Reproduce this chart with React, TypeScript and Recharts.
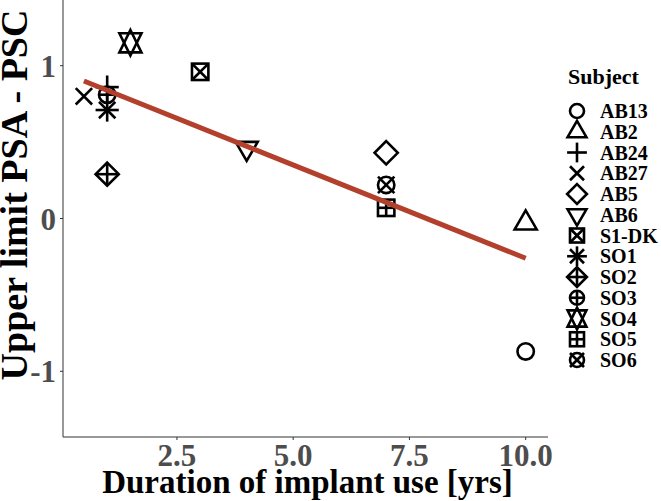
import React from "react";
import { ScatterChart, Scatter, XAxis, YAxis } from "recharts";

// one point per subject
const subjects = ["AB13", "AB2", "AB24", "AB27", "AB5", "AB6", "S1-DK", "SO1", "SO2", "SO3", "SO4", "SO5", "SO6"];
const years = [10, 10, 1, 0.5, 7, 4, 3, 1, 1, 1, 1.5, 7, 7];
const diffs = [-0.87, -0.03, 0.86, 0.8, 0.43, 0.46, 0.96, 0.71, 0.29, 0.81, 1.15, 0.07, 0.22];
// R-style point shapes (pch 1..13)
const pchCodes = [1, 2, 3, 4, 5, 6, 7, 8, 9, 10, 11, 12, 13];

// linear fit ends
const fitYears = [0.5, 10];
const fitValues = [0.9, -0.26];

const xTicks = [2.5, 5, 7.5, 10];
const yTicks = [-1, 0, 1];

const FONT = "'Liberation Serif', 'DejaVu Serif', serif";
const FIT_COLOR = "#b3402c";

type PchProps = { cx: number; cy: number; pch: number; R?: number };

const Pch = ({ cx, cy, pch, R = 8.2 }: PchProps) => {
  const st = { stroke: "#000", strokeWidth: 2.6, fill: "none" };
  const s2 = Math.SQRT2 * R;
  const upTri = (xc: number, r: number, yc: number) =>
    `${cx},${cy - r} ${cx + xc},${cy + yc} ${cx - xc},${cy + yc}`;
  const downTri = (xc: number, r: number, yc: number) =>
    `${cx},${cy + r} ${cx + xc},${cy - yc} ${cx - xc},${cy - yc}`;
  const plus = (h: number) => (
    <>
      <line x1={cx - h} y1={cy} x2={cx + h} y2={cy} {...st} />
      <line x1={cx} y1={cy - h} x2={cx} y2={cy + h} {...st} />
    </>
  );
  const times = (h: number) => (
    <>
      <line x1={cx - h} y1={cy - h} x2={cx + h} y2={cy + h} {...st} />
      <line x1={cx - h} y1={cy + h} x2={cx + h} y2={cy - h} {...st} />
    </>
  );
  const diamond = `${cx},${cy - s2} ${cx + s2},${cy} ${cx},${cy + s2} ${cx - s2},${cy}`;
  switch (pch) {
    case 1:
      return <circle cx={cx} cy={cy} r={R} {...st} />;
    case 2:
      return <polygon points={upTri(1.3468 * R, 1.555 * R, 0.7776 * R)} {...st} />;
    case 3:
      return <g>{plus(s2)}</g>;
    case 4:
      return <g>{times(R)}</g>;
    case 5:
      return <polygon points={diamond} {...st} />;
    case 6:
      return <polygon points={downTri(1.3468 * R, 1.555 * R, 0.7776 * R)} {...st} />;
    case 7:
      return (
        <g>
          <rect x={cx - R} y={cy - R} width={2 * R} height={2 * R} {...st} />
          {times(R)}
        </g>
      );
    case 8:
      return (
        <g>
          {times(R)}
          {plus(s2)}
        </g>
      );
    case 9:
      return (
        <g>
          <polygon points={diamond} {...st} />
          {plus(s2)}
        </g>
      );
    case 10:
      return (
        <g>
          <circle cx={cx} cy={cy} r={R} {...st} />
          {plus(R)}
        </g>
      );
    case 11: {
      const r = 1.555 * R;
      const yc = 0.5 * (0.7776 * R + r);
      const xc = 1.3468 * R;
      return (
        <g>
          <polygon points={upTri(xc, r, yc)} {...st} />
          <polygon points={downTri(xc, r, yc)} {...st} />
        </g>
      );
    }
    case 12:
      return (
        <g>
          <rect x={cx - R} y={cy - R} width={2 * R} height={2 * R} {...st} />
          {plus(R)}
        </g>
      );
    default:
      return (
        <g>
          <circle cx={cx} cy={cy} r={R} {...st} />
          {times(R)}
        </g>
      );
  }
};

const fitData = fitYears.map((x, i) => ({ x, y: fitValues[i] }));

const tickStyle = { fill: "#4d4d4d", fontSize: 31, fontWeight: "bold", fontFamily: FONT };

const XTitle = (props: any) => {
  const vb = props.viewBox || {};
  return (
    <text
      x={vb.x + vb.width / 2 + 2}
      y={493}
      textAnchor="middle"
      style={{ fill: "#000", fontSize: 33, fontWeight: "bold", fontFamily: FONT }}
    >
      Duration of implant use [yrs]
    </text>
  );
};

const YTitle = () => (
  <text
    x={27}
    y={195}
    transform="rotate(-90 27 195)"
    textAnchor="middle"
    style={{ fill: "#000", fontSize: 38, fontWeight: "bold", fontFamily: FONT }}
  >
    Upper limit PSA - PSC
  </text>
);

const LegendBox = () => (
  <svg width={661} height={501} style={{ position: "absolute", left: 0, top: 0, pointerEvents: "none" }}>
    <text x={568} y={84} style={{ fontSize: 22, fontWeight: "bold", fontFamily: FONT }}>
      Subject
    </text>
    {subjects.map((s, i) => {
      const cy = 111 + i * 20.75;
      return (
        <g key={s}>
          <Pch cx={577} cy={cy} pch={pchCodes[i]} R={7} />
          <text x={600} y={cy + 7} style={{ fontSize: 20, fontWeight: "bold", fontFamily: FONT }}>
            {s}
          </text>
        </g>
      );
    })}
  </svg>
);

export default function App() {
  return (
    <div style={{ position: "absolute", left: 0, top: 0, width: 661, height: 501, background: "#fff" }}>
      <ScatterChart width={661} height={501} margin={{ top: 0, right: 113, bottom: 0, left: 0 }}>
        <XAxis
          type="number"
          dataKey="x"
          domain={[0.05, 10.48]}
          ticks={xTicks}
          tickFormatter={(v: number) => v.toFixed(1)}
          allowDataOverflow
          height={64}
          stroke="#333"
          tickSize={3}
          tickMargin={4}
          tick={tickStyle}
          label={<XTitle />}
        />
        <YAxis
          type="number"
          dataKey="y"
          domain={[-1.43, 1.43]}
          ticks={yTicks}
          allowDataOverflow
          width={63}
          stroke="#333"
          tickSize={3}
          tickMargin={4}
          tick={tickStyle}
          label={<YTitle />}
        />
        {subjects.map((s, i) => (
          <Scatter
            key={s}
            name={s}
            data={[{ x: years[i], y: diffs[i] }]}
            isAnimationActive={false}
            shape={(p: any) => <Pch cx={p.cx} cy={p.cy} pch={pchCodes[i]} />}
          />
        ))}
        <Scatter
          name="fit"
          data={fitData}
          isAnimationActive={false}
          line={{ stroke: FIT_COLOR, strokeWidth: 5 }}
          shape={() => <g />}
        />
      </ScatterChart>
      <LegendBox />
    </div>
  );
}
